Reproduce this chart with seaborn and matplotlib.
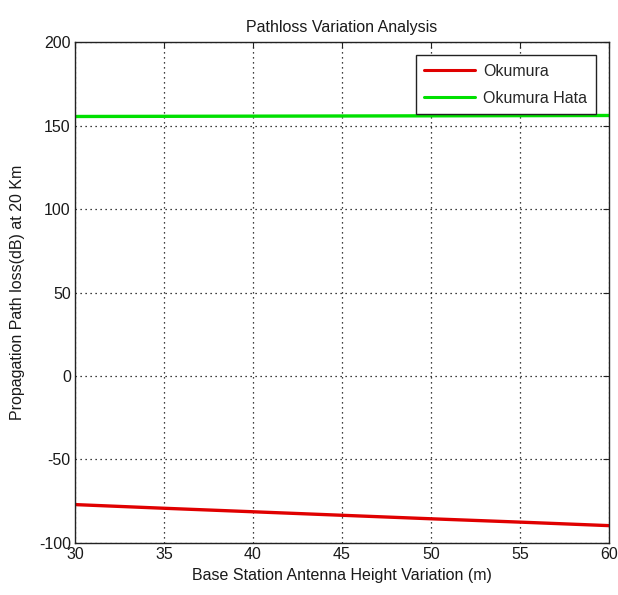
import matplotlib
matplotlib.use("Agg")
import matplotlib.pyplot as plt
import seaborn as sns
import pandas as pd

# Base station antenna height (m) and predicted path loss (dB) at 20 km
antenna_height = [30, 35, 40, 45, 50, 55, 60]
okumura_loss = [-77.0, -79.2, -81.3, -83.4, -85.5, -87.5, -89.6]
okumura_hata_loss = [155.4, 155.5, 155.6, 155.7, 155.8, 155.9, 156.0]

x_ticks = [30, 35, 40, 45, 50, 55, 60]
y_ticks = [-100, -50, 0, 50, 100, 150, 200]

sns.set_theme(style="white")
plt.rcParams["font.family"] = ["Liberation Sans Narrow", "Liberation Sans", "DejaVu Sans"]
plt.rcParams["axes.unicode_minus"] = False

df = pd.DataFrame({
    "height": antenna_height * 2,
    "loss": okumura_loss + okumura_hata_loss,
    "model": ["Okumura"] * len(antenna_height) + ["Okumura Hata"] * len(antenna_height),
})

fig = plt.figure(figsize=(6.18, 5.95), dpi=100)
ax = fig.add_axes([0.1214, 0.0874, 0.8640, 0.8420])

sns.lineplot(data=df, x="height", y="loss", hue="model",
             palette={"Okumura": "#e00000", "Okumura Hata": "#00e000"},
             linewidth=2.4, ax=ax, legend=True)

ax.set_xlim(30, 60)
ax.set_ylim(-100, 200)
ax.set_xticks(x_ticks)
ax.set_yticks(y_ticks)
ax.tick_params(direction="in", length=4, width=0.8, colors="#222222",
               labelsize=11.5, top=True, right=True, pad=3)
for lbl in ax.get_xticklabels() + ax.get_yticklabels():
    lbl.set_color("#1a1a1a")

ax.grid(True, linestyle=(0, (1, 3)), color="#000000", linewidth=0.9)
for s in ax.spines.values():
    s.set_visible(True)
    s.set_color("#222222")
    s.set_linewidth(1.0)

ax.set_title("Pathloss Variation Analysis", fontsize=11.5, color="#1a1a1a", pad=7)
ax.set_xlabel("Base Station Antenna Height Variation (m)", fontsize=11.5, color="#1a1a1a", labelpad=4)
ax.set_ylabel("Propagation Path loss(dB) at 20 Km", fontsize=11.5, color="#1a1a1a", labelpad=10)

leg = ax.legend(loc="upper right", fontsize=11.5, frameon=True, fancybox=False,
                edgecolor="#222222", framealpha=1, handlelength=3.2,
                borderaxespad=0.8, borderpad=0.55, labelspacing=0.75, handletextpad=0.5)
leg.get_frame().set_linewidth(1.0)
for line in leg.get_lines():
    line.set_linewidth(2.2)

fig.savefig("out.png", dpi=100, facecolor="white")
